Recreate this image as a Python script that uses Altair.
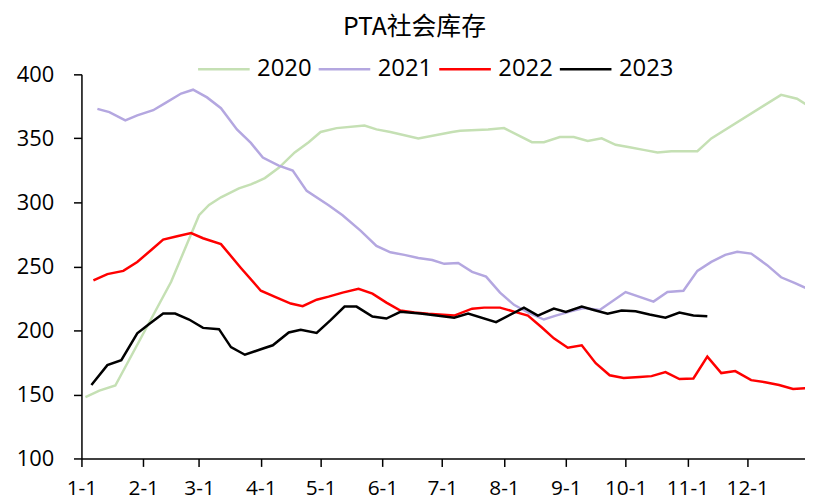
import altair as alt
import pandas as pd

years = ["2020", "2021", "2022", "2023"]
colors = ["#c5e0b4", "#b4a7e0", "#ff0000", "#000000"]

# day offsets from Jan 1 (weekly observations) and values
days_2020 = [2, 9, 17, 45, 59, 64, 70, 79, 85, 92, 99, 107, 114, 120, 128, 142, 148, 155, 169, 186,
             190, 204, 212, 226, 232, 240, 247, 254, 261, 268, 275, 282, 289, 296, 303, 309, 316, 351, 359, 364]
vals_2020 = [148, 153, 157, 238, 290, 298, 304, 311, 314, 319, 327, 339, 347, 355, 358, 360, 357, 355, 350, 355,
             356, 357, 358, 347, 347, 351, 351, 348, 350, 345, 343, 341, 339, 340, 340, 340, 350, 384, 381, 376]

days_2021 = [8, 14, 22, 28, 36, 42, 50, 56, 63, 70, 78, 85, 91, 99, 106, 113, 124, 131, 140, 148,
             155, 162, 169, 176, 182, 189, 196, 203, 210, 217, 224, 232, 238, 245, 252, 260, 273, 287, 294, 302,
             309, 316, 323, 329, 336, 344, 351, 358, 364]
vals_2021 = [373, 370.5, 364, 368, 372, 377.5, 385, 388, 382, 373.6, 357, 346.5, 335, 328.7, 324.8, 309, 297.7, 290, 278, 266,
             261, 259, 256.6, 255, 252, 252.7, 245.7, 242, 229.5, 220, 214, 208.5, 211.6, 214.7, 217.5, 216, 230, 222.5, 230, 231,
             246.5, 253.5, 259, 261.5, 260, 251, 241.5, 237, 232.6]

days_2022 = [6, 13, 21, 28, 35, 41, 48, 55, 61, 70, 80, 90, 98, 105, 111, 118, 124, 131, 139, 146,
             153, 160, 167, 174, 187, 196, 202, 210, 217, 224, 231, 237, 244, 251, 258, 265, 272, 280, 286, 293,
             300, 307, 314, 321, 328, 336, 343, 350, 357, 364]
vals_2022 = [239, 244, 246.5, 253.5, 262.8, 271, 273.6, 276, 272, 267.4, 248.8, 231, 225.6, 221, 219, 224, 226.4, 229.5, 232.5, 228.7,
             221.7, 215.5, 214, 213, 211.6, 217, 217.8, 217.8, 214.7, 211.6, 202.3, 193.8, 186.5, 188.4, 174.4, 165, 162.8, 163.6, 164.3, 167.4,
             162, 162.5, 179.5, 166.7, 168.2, 161.2, 159.5, 157.4, 154.3, 155]

days_2023 = [5, 13, 20, 28, 34, 41, 47, 54, 61, 69, 75, 82, 90, 96, 104, 110, 118, 125, 132, 138,
             146, 153, 160, 170, 187, 194, 208, 222, 229, 237, 243, 251, 257, 264, 271, 278, 285, 293, 300, 307, 314]
vals_2023 = [157.4, 172.9, 176.7, 197.7, 205, 213.2, 213.2, 208.5, 202, 201, 187, 181, 185.3, 188.4, 198.4, 200.5, 198, 208, 218.6, 218.6,
             210.9, 209.3, 214.5, 213.2, 210, 213.2, 206.5, 217.8, 211.6, 217, 214.5, 218.6, 216, 213, 215.5, 215, 212.4, 210, 214, 211.6, 211]

y_ticks = [100, 150, 200, 250, 300, 350, 400]
month_starts = list(range(1, 13))

series = [(years[0], days_2020, vals_2020), (years[1], days_2021, vals_2021),
          (years[2], days_2022, vals_2022), (years[3], days_2023, vals_2023)]
base_day = pd.Timestamp("2023-01-01")
rows = []
for yr, ds, vs in series:
    for d, v in zip(ds, vs):
        rows.append({"year": yr,
                     "date": (base_day + pd.Timedelta(days=d)).strftime("%Y-%m-%dT00:00:00"),
                     "value": v})
df = pd.DataFrame(rows)

chart = alt.Chart(df).mark_line(strokeWidth=2.5, clip=True).encode(
    x=alt.X("date:T",
            scale=alt.Scale(domain=[alt.DateTime(year=2023, month=1, date=1),
                                    alt.DateTime(year=2023, month=12, date=30)]),
            axis=alt.Axis(values=[alt.DateTime(year=2023, month=m, date=1) for m in month_starts],
                          format="%-m-%-d", title=None, grid=False, labelFlush=False,
                          labelFont="Open Sans", labelFontSize=21, labelColor="#000",
                          domainColor="#000", domainWidth=1.5, tickColor="#000", tickWidth=1.5,
                          tickSize=8, labelPadding=11)),
    y=alt.Y("value:Q",
            scale=alt.Scale(domain=[100, 400], nice=False, zero=False),
            axis=alt.Axis(values=y_ticks, title=None, grid=False,
                          labelFont="Open Sans", labelFontSize=22, labelColor="#000",
                          domainColor="#000", domainWidth=1.5, tickColor="#000", tickWidth=1.5,
                          tickSize=8, labelPadding=20)),
    color=alt.Color("year:N",
                    scale=alt.Scale(domain=years, range=colors),
                    legend=alt.Legend(orient="none", legendX=116, legendY=-33, direction="horizontal",
                                      title=None, symbolType="stroke", symbolSize=2704,
                                      symbolStrokeWidth=2.5, labelFont="Open Sans", labelFontSize=24,
                                      labelColor="#000", labelOffset=6, columnPadding=1.5)),
).properties(
    width=729,
    height=387,
    autosize=alt.AutoSizeParams(type="none"),
    padding={"left": 74, "top": 65, "right": 0, "bottom": 40},
    title=alt.TitleParams("PTA社会库存", font="Noto Sans CJK SC", fontSize=25,
                          fontWeight="normal", color="#000", offset=2, dx=-29),
).configure_view(stroke=None)

chart.save("out.html", embed_options={"renderer": "svg", "actions": False})
